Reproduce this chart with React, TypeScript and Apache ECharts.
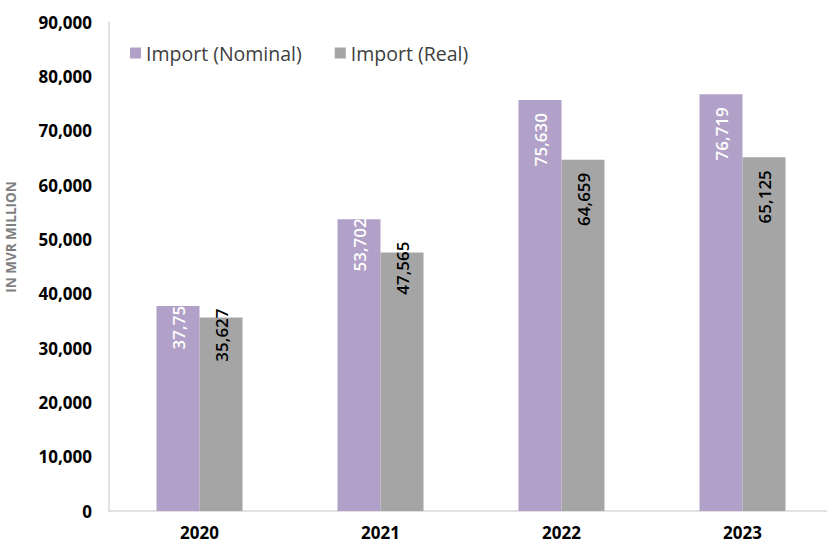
import React, { useEffect, useRef } from "react";
import * as echarts from "echarts";

const years = ["2020", "2021", "2022", "2023"];
const nominal = [37750, 53702, 75630, 76719];
const real = [35627, 47565, 64659, 65125];
const nominalLabels = ["37,75", "53,702", "75,630", "76,719"];
const realLabels = ["35,627", "47,565", "64,659", "65,125"];
const yTicks = [0, 10000, 20000, 30000, 40000, 50000, 60000, 70000, 80000, 90000];

// label offsets (px from bar top to start of the rotated text)
const nominalLabelOffset = [0, -1, 13, 13];
const realLabelOffset = [-9, -11, 13, 13];

const FONT = "'Open Sans', 'Noto Sans', sans-serif";

export default function App() {
  const ref = useRef<HTMLDivElement>(null);
  useEffect(() => {
    document.body.style.margin = "0";
    const chart = echarts.init(ref.current!, null, { renderer: "svg" });
    const labelBase = {
      show: true,
      rotate: 90,
      align: "right",
      verticalAlign: "middle",
      fontSize: 17,
      fontWeight: 600,
      fontFamily: FONT,
    };
    chart.setOption({
      animation: false,
      textStyle: { fontFamily: FONT },
      legend: {
        left: 125,
        top: 38,
        itemWidth: 11,
        itemHeight: 11,
        itemGap: 33,
        icon: "rect",
        textStyle: { fontSize: 19.5, color: "#404040", fontFamily: FONT },
        data: ["Import (Nominal)", "Import (Real)"],
      },
      graphic: [
        {
          type: "text",
          x: 11,
          y: 237,
          rotation: Math.PI / 2,
          style: {
            text: "IN MVR MILLION",
            fill: "#7f7f7f",
            font: `bold 13.5px ${FONT}`,
            textAlign: "center",
            textVerticalAlign: "middle",
          },
        },
      ],
      grid: { left: 109, top: 22, width: 724, height: 489, outerBoundsMode: "none", containLabel: false },
      xAxis: {
        type: "category",
        data: years,
        axisLine: { lineStyle: { color: "#d9d9d9", width: 1.5 } },
        axisTick: { show: false },
        axisLabel: { fontSize: 17, fontWeight: "bold", color: "#000", margin: 13, fontFamily: FONT },
      },
      yAxis: {
        type: "value",
        min: yTicks[0],
        max: yTicks[yTicks.length - 1],
        interval: yTicks[1] - yTicks[0],
        splitLine: { show: false },
        axisLine: { show: true, lineStyle: { color: "#d9d9d9", width: 1.5 } },
        axisTick: { show: false },
        axisLabel: {
          fontSize: 17,
          fontWeight: "bold",
          color: "#000",
          margin: 17,
          fontFamily: FONT,
          formatter: (v: number) => v.toLocaleString("en-US"),
        },
      },
      series: [
        {
          name: "Import (Nominal)",
          type: "bar",
          data: nominal.map((v, i) => ({
            value: v,
            label: { position: ["50%", nominalLabelOffset[i]] },
          })),
          barWidth: 43,
          barGap: "0%",
          itemStyle: { color: "#b1a0c7" },
          label: {
            ...labelBase,
            color: "#fff",
            formatter: (p: any) => nominalLabels[p.dataIndex],
          },
        },
        {
          name: "Import (Real)",
          type: "bar",
          data: real.map((v, i) => ({
            value: v,
            label: { position: ["50%", realLabelOffset[i]] },
          })),
          barWidth: 43,
          itemStyle: { color: "#a5a5a5" },
          label: {
            ...labelBase,
            color: "#000",
            formatter: (p: any) => realLabels[p.dataIndex],
          },
        },
      ],
    });
    return () => chart.dispose();
  }, []);
  return <div ref={ref} style={{ width: 827, height: 544 }} />;
}
